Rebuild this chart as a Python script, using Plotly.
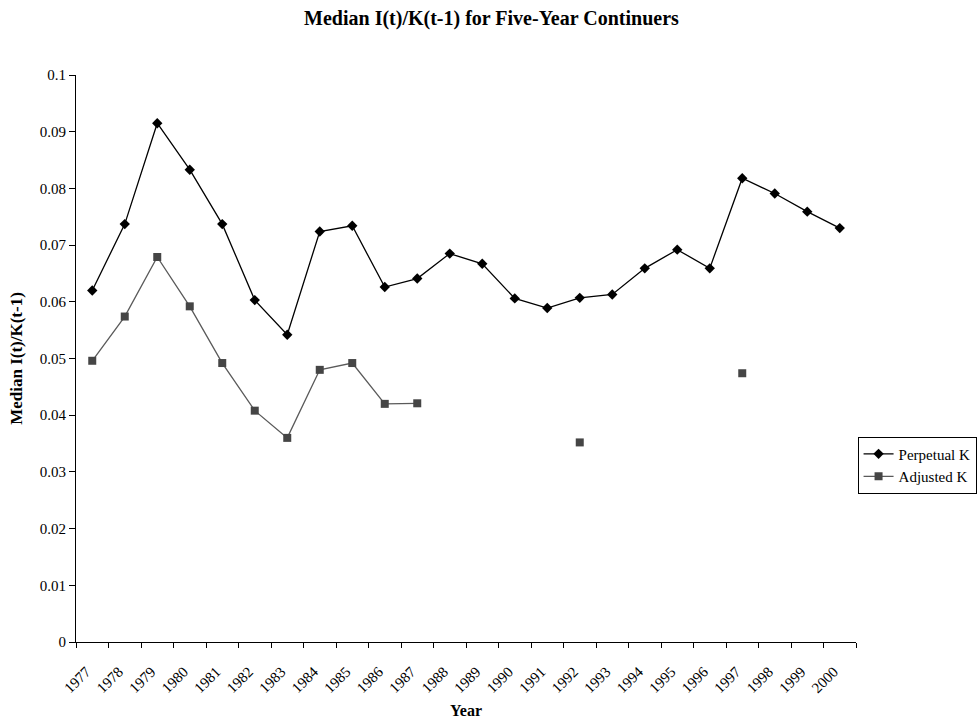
import plotly.graph_objects as go

# Years on the category axis
years = [str(y) for y in range(1977, 2001)]

# Median investment-to-capital ratios
perpetual_k = [0.0620, 0.0737, 0.0915, 0.0833, 0.0737, 0.0603, 0.0542, 0.0724,
               0.0734, 0.0626, 0.0641, 0.0685, 0.0667, 0.0606, 0.0589, 0.0607,
               0.0613, 0.0659, 0.0692, 0.0659, 0.0818, 0.0791, 0.0759, 0.0730]

adjusted_k = [0.0496, 0.0574, 0.0679, 0.0592, 0.0492, 0.0408, 0.0360, 0.0480,
              0.0492, 0.0420, 0.0421, None, None, None, None, 0.0352,
              None, None, None, None, 0.0474, None, None, None]

y_ticks = [round(0.01 * i, 2) for i in range(11)]
y_labels = ["0"] + [f"{v:g}" for v in y_ticks[1:]]

serif = "Liberation Serif, Times New Roman, serif"

fig = go.Figure()
fig.add_trace(go.Scatter(
    x=years, y=perpetual_k, name="Perpetual K", mode="lines+markers",
    line=dict(color="#000000", width=1.3),
    marker=dict(symbol="diamond", size=8, color="#000000"),
    connectgaps=False,
))
fig.add_trace(go.Scatter(
    x=years, y=adjusted_k, name="Adjusted K", mode="lines+markers",
    line=dict(color="#5a5a5a", width=1.3),
    marker=dict(symbol="square", size=8, color="#454545"),
    connectgaps=False,
))

fig.update_layout(
    width=979, height=721,
    margin=dict(l=76, r=123, t=75, b=79, autoexpand=False),
    paper_bgcolor="white", plot_bgcolor="white",
    font=dict(family=serif, size=15, color="#000000"),
    title=dict(text="<b>Median I(t)/K(t-1) for Five-Year Continuers</b>",
               x=0.502, xref="container", xanchor="center",
               y=1 - 18 / 721, yanchor="middle",
               font=dict(family=serif, size=20)),
    showlegend=True,
    legend=dict(x=1.002, xanchor="left", y=0.312, yanchor="middle",
                bordercolor="#000000", borderwidth=1, bgcolor="white",
                font=dict(family=serif, size=15),
                tracegroupgap=0, itemwidth=30),
)

fig.update_xaxes(
    type="category", categoryorder="array", categoryarray=years,
    range=[-0.5, len(years) - 0.5], automargin=False,
    tickson="boundaries", ticks="outside", ticklen=5, tickcolor="#000000",
    tickangle=-45, ticklabelshift=-6, ticklabelstandoff=14,
    showline=True, linecolor="#000000", linewidth=1.2,
    showgrid=False, zeroline=False,
    title=dict(text="<b>Year</b>", font=dict(family=serif, size=16), standoff=9),
    tickfont=dict(family=serif, size=15),
)

fig.update_yaxes(
    range=[0, 0.1], tickvals=y_ticks, ticktext=y_labels, automargin=False,
    ticks="outside", ticklen=6, tickcolor="#000000",
    showline=True, linecolor="#000000", linewidth=1.2,
    showgrid=False, zeroline=False,
    title=dict(text="<b>Median I(t)/K(t-1)</b>", font=dict(family=serif, size=17), standoff=12),
    tickfont=dict(family=serif, size=15),
)

fig.write_html("out.html")
